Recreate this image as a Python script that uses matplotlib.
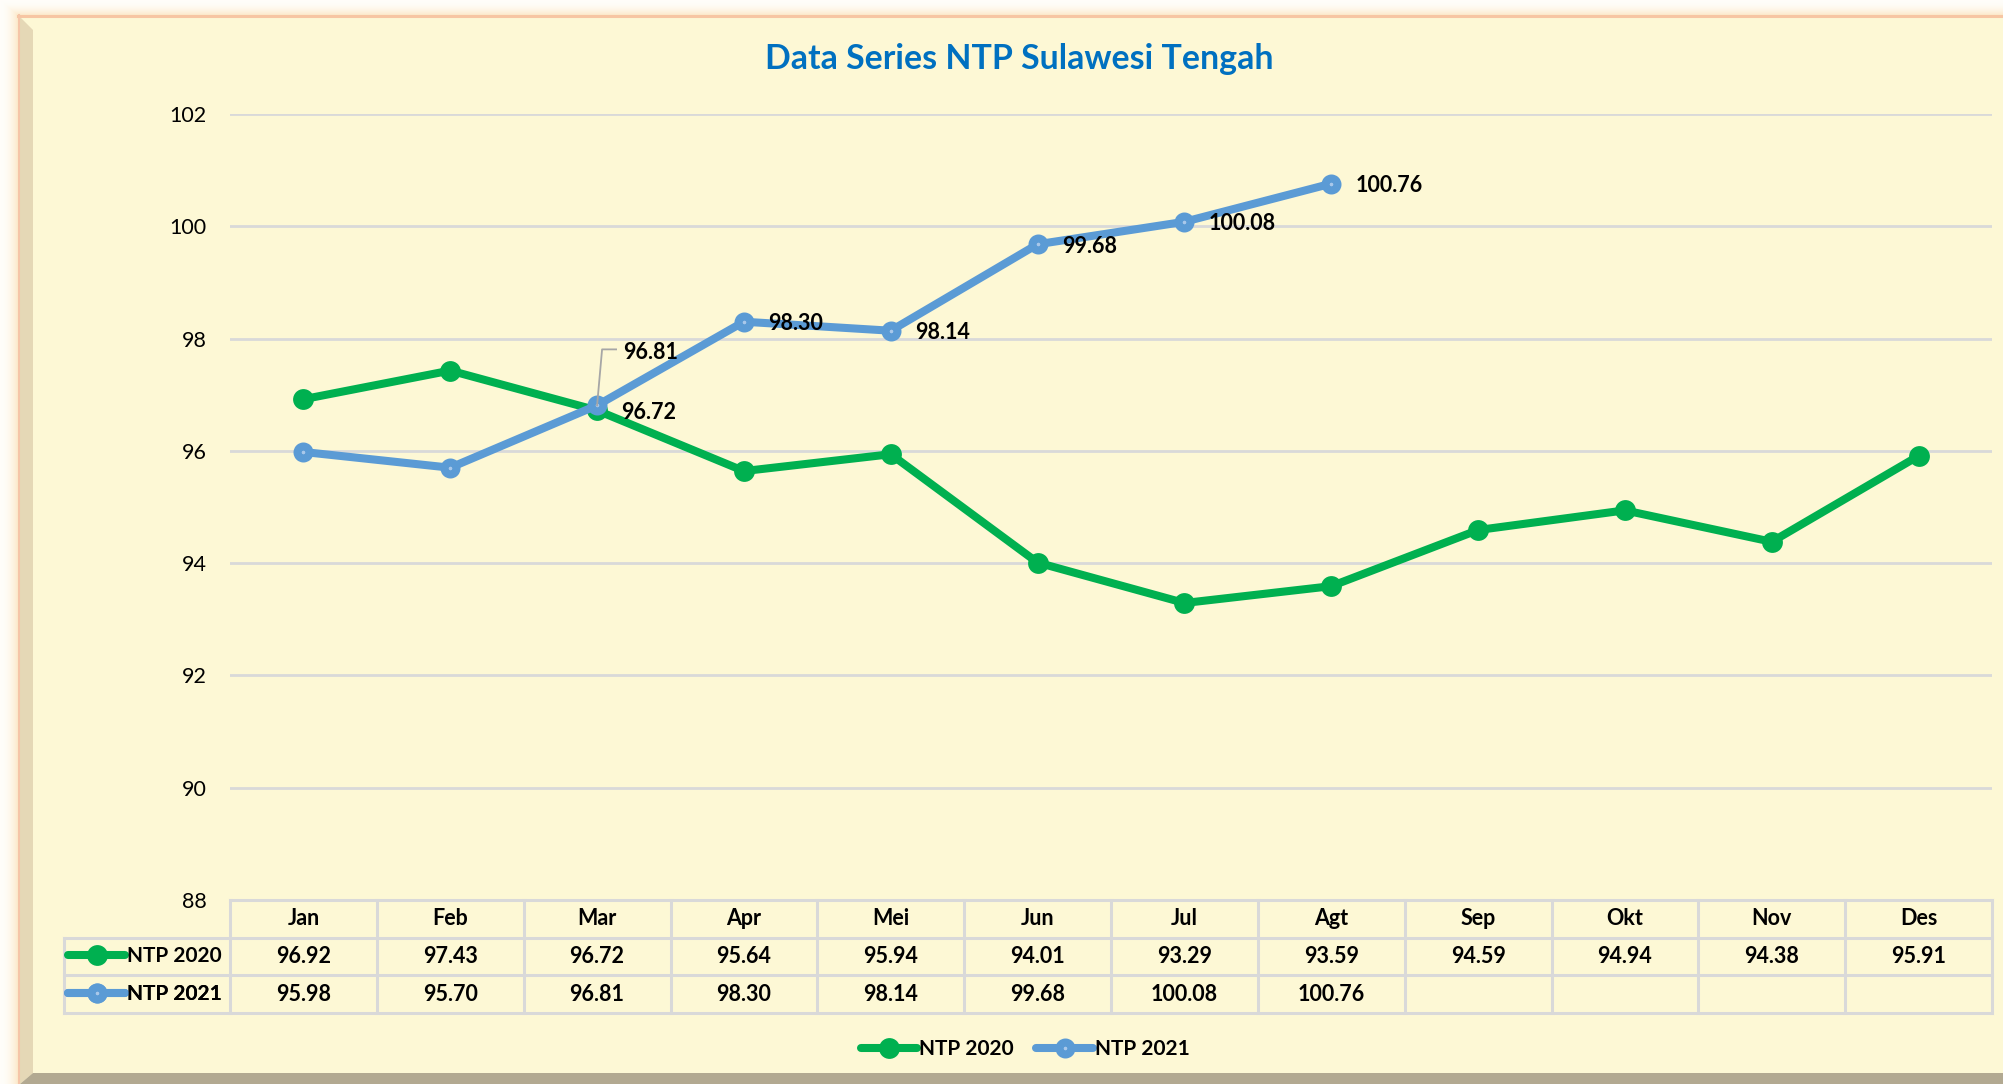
import numpy as np
import matplotlib
matplotlib.use("Agg")
import matplotlib.pyplot as plt
import matplotlib.transforms as mtransforms
from matplotlib.lines import Line2D
from matplotlib.patches import Polygon

# ---------------- data ----------------
months = ["Jan", "Feb", "Mar", "Apr", "Mei", "Jun", "Jul", "Agt", "Sep", "Okt", "Nov", "Des"]
ntp_2020 = [96.92, 97.43, 96.72, 95.64, 95.94, 94.01, 93.29, 93.59, 94.59, 94.94, 94.38, 95.91]
ntp_2021 = [95.98, 95.70, 96.81, 98.30, 98.14, 99.68, 100.08, 100.76]
series_names = ["NTP 2020", "NTP 2021"]
title = "Data Series NTP Sulawesi Tengah"
y_ticks = [88, 90, 92, 94, 96, 98, 100, 102]
labelled_2021 = ["Apr", "Mei", "Jun", "Jul", "Agt"]
labelled_2020 = ["Mar"]
leader_2021 = ["Mar"]

# ---------------- style ----------------
W, H = 2003, 1084
FONT = "Lato"
plt.rcParams["font.family"] = [FONT, "DejaVu Sans"]
BG = "#fdf8d5"
GREEN = "#00b050"
BLUE = "#5b9bd5"
BLUE_DOT = "#a9c8ea"
GRID = "#d9d9d9"

fig = plt.figure(figsize=(W / 100, H / 100), dpi=100)
fig.patch.set_facecolor("#fffaf0")

# ---------- frame decoration (pixel coordinate background axes) ----------
bg = fig.add_axes([0, 0, 1, 1], zorder=-10)
bg.set_xlim(0, W)
bg.set_ylim(H, 0)
bg.axis("off")
c_out = np.array([1.0, 0.995, 0.98])
c_in = np.array([0.99, 0.91, 0.78])
ys = np.clip(np.arange(H) / 15.0, 0, 1)[:, None]
xs = np.clip(np.arange(W) / 18.0, 0, 1)[None, :]
t = np.minimum(ys, xs) ** 2
glow = c_out[None, None, :] * (1 - t[..., None]) + c_in[None, None, :] * t[..., None]
bg.imshow(glow, extent=(0, W, H, 0), aspect="auto", zorder=0)
bg.add_patch(Polygon([[18, 15], [W, 15], [W, H], [18, H]], closed=True,
                     facecolor=BG, edgecolor="none", zorder=1))
bg.plot([18, W], [15.5, 15.5], color="#f7c6a3", lw=2.2, zorder=3)
bg.plot([18.5, 18.5], [15, H], color="#f5c5a8", lw=1.5, zorder=3)
bg.add_patch(Polygon([[18, 15], [33, 30], [33, 1073], [20, H]], closed=True,
                     facecolor="#e5d8b6", edgecolor="none", zorder=2))
bg.add_patch(Polygon([[20, H], [33, 1073], [W, 1073], [W, H]], closed=True,
                     facecolor="#b2a991", edgecolor="none", zorder=2))

# ---------------- main axes ----------------
ax_left, ax_right = 230 / W, 1992 / W
ax_bottom, ax_top = 1 - 900 / H, 1 - 114 / H
ax = fig.add_axes([ax_left, ax_bottom, ax_right - ax_left, ax_top - ax_bottom])
ax.set_facecolor("none")
x = np.arange(len(months))
ax.set_xlim(-0.5, len(months) - 0.5)
ax.set_ylim(min(y_ticks), max(y_ticks))
ax.set_yticks(y_ticks)
ax.set_yticklabels([str(v) for v in y_ticks], fontsize=15.5, color="#000000")
ax.tick_params(axis="y", length=0, pad=17)
ax.set_xticks([])
for s in ax.spines.values():
    s.set_visible(False)
ax.grid(axis="y", color=GRID, lw=2, zorder=0)
ax.set_axisbelow(True)

style2020 = dict(color=GREEN, lw=5.8, marker="o", ms=15, mfc=GREEN, mec=GREEN, mew=0,
                 solid_capstyle="round")
style2021 = dict(color=BLUE, lw=5.8, marker="o", ms=8.6, mfc=BLUE_DOT, mec=BLUE, mew=5.8,
                 solid_capstyle="round")
l20, = ax.plot(x, ntp_2020, label=series_names[0], zorder=3, **style2020)
l21, = ax.plot(x[:len(ntp_2021)], ntp_2021, label=series_names[1], zorder=4, **style2021)

lab_kw = dict(fontsize=15.5, fontweight="bold", color="black", va="center", ha="left",
              textcoords="offset points", zorder=6)
for m in labelled_2021:
    i = months.index(m)
    ax.annotate(f"{ntp_2021[i]:.2f}", (i, ntp_2021[i]), xytext=(17.5, -1.5), **lab_kw)
for m in labelled_2020:
    i = months.index(m)
    ax.annotate(f"{ntp_2020[i]:.2f}", (i, ntp_2020[i]), xytext=(17, -1.5), **lab_kw)
for m in leader_2021:
    i = months.index(m)
    tr = fig.dpi_scale_trans + mtransforms.ScaledTranslation(i, ntp_2021[i], ax.transData)
    ax.add_line(Line2D([0, 0.05, 0.19], [0, 0.56, 0.56], transform=tr, color="#a6a6a6",
                       lw=1.3, zorder=5))
    ax.annotate(f"{ntp_2021[i]:.2f}", (i, ntp_2021[i]), xytext=(19, 38), **lab_kw)

fig.text(1019 / W, 1 - 59 / H, title, ha="center", va="center", fontsize=24.4,
         fontweight="bold", color="#0070c0")

# ---------------- data table ----------------
colw = (1992 - 230) / len(months)
left_data = -0.5 - (230 - 64) / colw
tax = fig.add_axes([64 / W, 1 - 1013 / H, (1992 - 64) / W, (1013 - 900) / H])
tax.set_xlim(left_data, len(months) - 0.5)
tax.set_ylim(0, 3)
tax.axis("off")
tax.set_facecolor("none")
lkw = dict(color=GRID, lw=2.2, solid_capstyle="projecting", clip_on=False)
tax.plot([-0.5, len(months) - 0.5], [3, 3], **lkw)
for yy in (2, 1, 0):
    tax.plot([left_data, len(months) - 0.5], [yy, yy], **lkw)
tax.plot([left_data, left_data], [0, 2], **lkw)
for k in range(len(months) + 1):
    tax.plot([k - 0.5, k - 0.5], [0, 3], **lkw)
cell_kw = dict(ha="center", va="center", fontsize=15.5, fontweight="bold", color="black")
for i, m in enumerate(months):
    tax.text(i, 2.5, m, **cell_kw)
    tax.text(i, 1.5, f"{ntp_2020[i]:.2f}", **cell_kw)
    if i < len(ntp_2021):
        tax.text(i, 0.5, f"{ntp_2021[i]:.2f}", **cell_kw)

leg_kw = dict(frameon=False, handlelength=2.7, handletextpad=0.1, borderpad=0,
              borderaxespad=0, prop={"weight": "bold", "size": 15, "family": FONT})
for row_y, h in ((1.5, l20), (0.5, l21)):
    lg = tax.legend(handles=[h], loc="center left",
                    bbox_to_anchor=(left_data + 0.03, row_y), bbox_transform=tax.transData,
                    **leg_kw)
    tax.add_artist(lg)

fig.legend(handles=[l20, l21], loc="center", bbox_to_anchor=(1025 / W, 1 - 1049 / H),
           ncol=2, columnspacing=1.1, **leg_kw)

fig.savefig("out.png", dpi=100, facecolor=fig.get_facecolor())
